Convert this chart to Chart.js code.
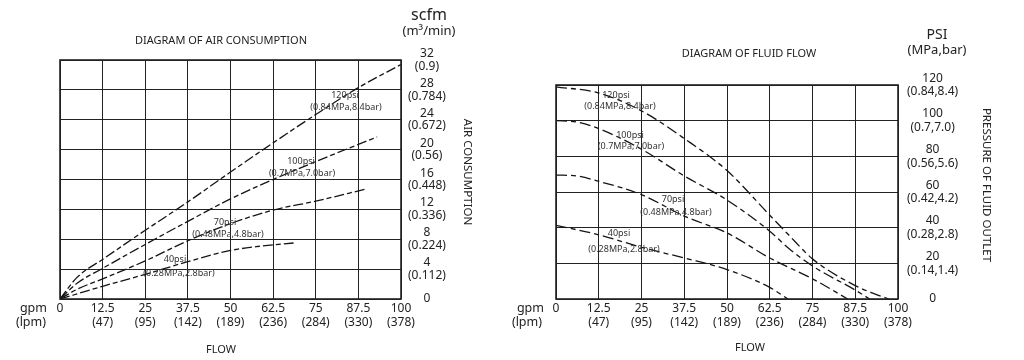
<!DOCTYPE html>
<html>
<head>
<meta charset="utf-8">
<script src="https://cdn.jsdelivr.net/npm/chart.js@4.4.1/dist/chart.umd.min.js"></script>
<style>
  html, body { margin: 0; padding: 0; background: #fff; }
  #wrap { position: relative; width: 1024px; height: 360px; }
  .box { position: absolute; top: 0; width: 512px; height: 360px; }
</style>
</head>
<body>
<div id="wrap">
  <div class="box" style="left:0"><canvas id="air" width="512" height="360"></canvas></div>
  <div class="box" style="left:512px"><canvas id="fluid" width="512" height="360"></canvas></div>
</div>
<script>
// flow axis, shared by both diagrams
const gpmTicks = [0, 12.5, 25, 37.5, 50, 62.5, 75, 87.5, 100];
const lpmLabels = ['', '(47)', '(95)', '(142)', '(189)', '(236)', '(284)', '(330)', '(378)'];

// air consumption axis
const scfmTicks = [0, 4, 8, 12, 16, 20, 24, 28, 32];
const m3minLabels = ['', '(0.112)', '(0.224)', '(0.336)', '(0.448)', '(0.56)', '(0.672)', '(0.784)', '(0.9)'];

// fluid outlet pressure axis
const psiTicks = [0, 20, 40, 60, 80, 100, 120];
const mpaBarLabels = ['', '(0.14,1.4)', '(0.28,2.8)', '(0.42,4.2)', '(0.56,5.6)', '(0.7,7.0)', '(0.84,8.4)'];

// air consumption curves [gpm, scfm]
const air120 = [[0,0],[5,2.9],[12.5,5.3],[25,9.2],[37.5,13.0],[50,17.0],[62.5,20.9],[75,24.7],[87.5,28.3],[100,31.4]];
const air100 = [[0,0],[5,2.1],[12.5,4.1],[25,7.3],[37.5,10.4],[50,13.4],[62.5,16.0],[75,18.4],[87.5,20.7],[93,21.7]];
const air70  = [[0,0],[5,1.3],[12.5,2.7],[25,5.1],[37.5,7.8],[50,10.1],[62.5,11.9],[75,13.1],[89.5,14.7]];
const air40  = [[0,0],[12.5,1.7],[25,3.3],[37.5,5.0],[50,6.5],[57.5,7.0],[68.5,7.5]];

// fluid flow curves [gpm, psi]
const fluid120 = [[0,119],[12.5,115.5],[25,105.5],[37.5,90],[50,72],[62.5,47],[68,36],[75,22.5],[87.5,7.5],[93,3],[97.3,0]];
const fluid100 = [[0,100],[6,99.3],[12.5,95.5],[25,84],[37.5,69],[50,55.5],[62.5,38],[68,28.5],[75,18.5],[87.5,5],[91.7,0]];
const fluid70  = [[0,69.5],[6,69],[12.5,66],[25,58.5],[37.5,46.5],[50,37],[62.5,23],[75,11.3],[85.3,0]];
const fluid40  = [[0,41.3],[12.5,36],[25,29],[37.5,23],[50,16.5],[62.5,6.5],[67.8,0]];

const FONT = '"Noto Sans", "DejaVu Sans", sans-serif';
const INK = '#222';

function pts(arr) { return arr.map(p => ({ x: p[0], y: p[1] })); }

function curve(arr, dash) {
  return {
    data: pts(arr),
    borderColor: '#151515',
    borderWidth: 1.3,
    borderDash: dash,
    pointRadius: 0,
    fill: false,
    cubicInterpolationMode: 'monotone'
  };
}

function twoLine(values, labels) {
  return function (v) {
    const i = values.findIndex(t => Math.abs(t - v) < 1e-6);
    if (i < 0) return '';
    return labels[i] ? [String(values[i]), labels[i]] : String(values[i]);
  };
}

// texts drawn around the plot box + frame
const textPlugin = {
  id: 'texts',
  afterDraw(chart, args, opts) {
    const ctx = chart.ctx;
    const a = chart.chartArea;
    ctx.save();
    ctx.strokeStyle = INK;
    ctx.lineWidth = 1.6;
    ctx.strokeRect(a.left, a.top, a.right - a.left, a.bottom - a.top);
    ctx.textBaseline = 'middle';
    (opts.items || []).forEach(t => {
      ctx.font = (t.size || 11) + 'px ' + FONT;
      ctx.fillStyle = t.color || INK;
      ctx.textAlign = t.align || 'center';
      if (t.rot) {
        ctx.save();
        ctx.translate(t.x, t.y);
        ctx.rotate(Math.PI / 2);
        ctx.fillText(t.text, 0, 0);
        ctx.restore();
      } else {
        ctx.fillText(t.text, t.x, t.y);
      }
    });
    ctx.restore();
  }
};

function makeChart(id, o) {
  return new Chart(document.getElementById(id), {
    type: 'line',
    data: { datasets: o.datasets },
    plugins: [textPlugin],
    options: {
      responsive: false,
      animation: false,
      devicePixelRatio: 1,
      layout: { padding: { left: o.padLeft, top: o.padTop, right: 0, bottom: 0 } },
      plugins: { legend: { display: false }, tooltip: { enabled: false }, texts: { items: o.texts } },
      scales: {
        x: {
          type: 'linear',
          min: 0, max: 100,
          afterBuildTicks: s => { s.ticks = gpmTicks.map(v => ({ value: v })); },
          afterFit: s => { s.height = 61; },
          grid: { color: '#222', lineWidth: 1, drawTicks: false },
          border: { display: false },
          ticks: {
            autoSkip: false, maxRotation: 0, padding: 3, color: INK,
            font: { family: FONT, size: 12, lineHeight: 1.15 },
            callback: twoLine(gpmTicks, lpmLabels)
          }
        },
        y: {
          type: 'linear',
          position: 'right',
          min: 0, max: o.yMax,
          afterBuildTicks: s => { s.ticks = o.yTicks.map(v => ({ value: v })); },
          afterFit: s => { s.width = o.yWidth; },
          grid: { color: '#222', lineWidth: 1, drawTicks: false },
          border: { display: false },
          ticks: {
            autoSkip: false, padding: o.yPad, crossAlign: 'center', color: INK,
            font: { family: FONT, size: 12, lineHeight: o.yLine },
            callback: twoLine(o.yTicks, o.yLabels)
          }
        }
      }
    }
  });
}

const dashA = [10, 3, 5, 3];
const dashB = [11, 4, 5, 4];
const LBL = '#333';

makeChart('air', {
  padLeft: 60, padTop: 60, yWidth: 111, yPad: 7, yLine: 1.05,
  yMax: 32, yTicks: scfmTicks, yLabels: m3minLabels,
  datasets: [curve(air120, dashA), curve(air100, dashA), curve(air70, dashA), curve(air40, dashA)],
  texts: [
    { text: 'DIAGRAM OF AIR CONSUMPTION', x: 221, y: 41, size: 11 },
    { text: 'scfm', x: 429, y: 15, size: 16 },
    { text: '(m\u00b3/min)', x: 429, y: 31, size: 13 },
    { text: 'AIR CONSUMPTION', x: 467, y: 172, size: 11.5, rot: true },
    { text: 'gpm', x: 47, y: 308, size: 12.5, align: 'right' },
    { text: '(lpm)', x: 46, y: 322, size: 12.5, align: 'right' },
    { text: 'FLOW', x: 221, y: 350, size: 11 },
    { text: '120psi', x: 345, y: 95, size: 9, color: LBL },
    { text: '(0.84MPa,8.4bar)', x: 346, y: 107, size: 9, color: LBL },
    { text: '100psi', x: 301, y: 161, size: 9, color: LBL },
    { text: '(0.7MPa,7.0bar)', x: 302, y: 173, size: 9, color: LBL },
    { text: '70psi', x: 225, y: 222, size: 9, color: LBL },
    { text: '(0.48MPa,4.8bar)', x: 228, y: 234, size: 9, color: LBL },
    { text: '40psi', x: 175, y: 259, size: 9, color: LBL },
    { text: '(0.28MPa,2.8bar)', x: 179, y: 273, size: 9, color: LBL }
  ]
});

makeChart('fluid', {
  padLeft: 44, padTop: 85, yWidth: 126, yPad: 9, yLine: 1.15,
  yMax: 120, yTicks: psiTicks, yLabels: mpaBarLabels,
  datasets: [curve(fluid120, dashB), curve(fluid100, dashB), curve(fluid70, dashB), curve(fluid40, dashB)],
  texts: [
    { text: 'DIAGRAM OF FLUID FLOW', x: 237, y: 54, size: 11 },
    { text: 'PSI', x: 425, y: 35, size: 14 },
    { text: '(MPa,bar)', x: 425, y: 50, size: 13 },
    { text: 'PRESSURE OF FLUID OUTLET', x: 474, y: 185, size: 11.5, rot: true },
    { text: 'gpm', x: 32, y: 308, size: 12.5, align: 'right' },
    { text: '(lpm)', x: 30, y: 322, size: 12.5, align: 'right' },
    { text: 'FLOW', x: 238, y: 348, size: 11 },
    { text: '120psi', x: 104, y: 95, size: 9, color: LBL },
    { text: '(0.84MPa,8.4bar)', x: 108, y: 106, size: 9, color: LBL },
    { text: '100psi', x: 118, y: 135, size: 9, color: LBL },
    { text: '(0.7MPa,7.0bar)', x: 119, y: 146, size: 9, color: LBL },
    { text: '70psi', x: 161, y: 199, size: 9, color: LBL },
    { text: '(0.48MPa,4.8bar)', x: 164, y: 212, size: 9, color: LBL },
    { text: '40psi', x: 107, y: 233, size: 9, color: LBL },
    { text: '(0.28MPa,2.8bar)', x: 112, y: 249, size: 9, color: LBL }
  ]
});
</script>
</body>
</html>
